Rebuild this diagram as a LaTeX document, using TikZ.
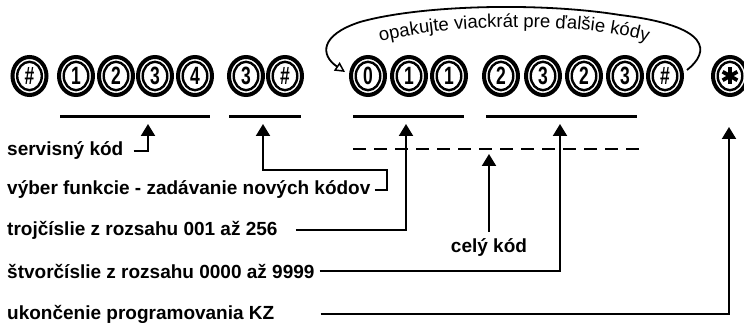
\documentclass[tikz,border=0pt]{standalone}
\usepackage{fontspec}
\setmainfont{Liberation Sans}
\newfontfamily\keyfont[FakeStretch=0.7]{Liberation Sans}
\usetikzlibrary{arrows.meta,decorations.text,shapes.geometric}
\begin{document}
\begin{tikzpicture}[x=1pt,y=-1pt,
  key/.style={ellipse,draw,line width=4pt,minimum width=34pt,minimum height=38pt,inner sep=0pt,
    font=\keyfont\bfseries\fontsize{25}{25}\selectfont,
    path picture={\draw[line width=2.4pt] (path picture bounding box.center) ellipse [x radius=12.3pt,y radius=14.2pt];}},
  starkey/.style={key,
    path picture={\draw[line width=2.4pt] (path picture bounding box.center) ellipse [x radius=12.3pt,y radius=14.2pt];
      \foreach \a in {90,30,150}{\draw[line width=3.8pt] (path picture bounding box.center) +(\a:8.5pt) -- +(\a+180:8.5pt);}}},
  label/.style={anchor=west,inner sep=0pt,font=\bfseries\fontsize{19}{22}\selectfont},
  uline/.style={line width=3pt},
  conn/.style={line width=2pt,-{Triangle[length=12pt,width=14pt]}},
  dashline/.style={line width=2.3pt,dash pattern=on 13pt off 8pt},
  loop/.style={line width=1.8pt,-{Triangle[open,length=10pt,width=10pt,line width=1.5pt]}}
]
\useasboundingbox (0,0) rectangle (744,323);

% keys
\node[key] (k1) at (29.5,76) {\#};
\node[key] (k2) at (76,76) {1};
\node[key] (k3) at (116,76) {2};
\node[key] (k4) at (155,76) {3};
\node[key] (k5) at (195,76) {4};
\node[key] (k6) at (246,76) {3};
\node[key] (k7) at (285,76) {\#};
\node[key] (k8) at (368,76) {0};
\node[key] (k9) at (409,76) {1};
\node[key] (k10) at (449,76) {1};
\node[key] (k11) at (501,76) {2};
\node[key] (k12) at (543,76) {3};
\node[key] (k13) at (584,76) {2};
\node[key] (k14) at (625,76) {3};
\node[key] (k15) at (665,76) {\#};
\node[starkey] (k16) at (730,76) {};

% underlines
\coordinate (u1a) at (60,117);  \coordinate (u1b) at (210,117);
\coordinate (u2a) at (229,117); \coordinate (u2b) at (301,117);
\coordinate (u3a) at (353,117); \coordinate (u3b) at (464,117);
\coordinate (u4a) at (486,117); \coordinate (u4b) at (637,117);
\draw[uline] (u1a) -- (u1b);
\draw[uline] (u2a) -- (u2b);
\draw[uline] (u3a) -- (u3b);
\draw[uline] (u4a) -- (u4b);

% dashed line
\coordinate (d1) at (353,149); \coordinate (d2) at (640,149);
\draw[dashline] (d1) -- (d2);

% labels
\node[label] (sv) at (7,151) {servisný kód};
\node[label] (vf) at (7,190) {výber funkcie - zadávanie nových kódov};
\node[label] (tr) at (7,230) {trojčíslie z rozsahu 001 až 256};
\node[label] (st) at (7,271) {štvorčíslie z rozsahu 0000 až 9999};
\node[label] (uk) at (7,314) {ukončenie programovania KZ};
\node[inner sep=0pt,font=\bfseries\fontsize{19}{22}\selectfont] (ck) at (489,248) {celý kód};

% arrow tips
\coordinate (t1) at (148,124);
\coordinate (t2) at (263,124);
\coordinate (b2) at (387,170);
\coordinate (t3) at (406,124);
\coordinate (t4) at (560,124);
\coordinate (t5) at (729,127);
\coordinate (t6) at (489,154);

\draw[conn] ([xshift=10pt]sv.east) -| (t1);
\draw[conn] ([xshift=4pt]vf.east) -| (b2) -| (t2);
\draw[conn] ([xshift=18pt]tr.east) -| (t3);
\draw[conn] ([xshift=5pt]st.east) -| (t4);
\draw[conn] ([xshift=46pt]uk.east) -| (t5);
\draw[conn] ([yshift=7pt]ck.north) -- (t6);

% repeat loop
\coordinate (ls) at ([shift={(22,-6)}]k15.center);
\coordinate (le) at ([shift={(-23,-4)}]k8.center);
\draw[loop] (ls) .. controls (710,52) and (712,26) .. (620,15)
  .. controls (540,2) and (420,5) .. (360,22)
  .. controls (320,35) and (320,55) .. (le);
\path[decorate,decoration={text along path,text align=center,
  text={|\fontsize{18.5}{18.5}\selectfont|opakujte viackrát pre ďalšie kódy}}]
  (376,43) .. controls (440,24) and (580,20) .. (652,43);
\end{tikzpicture}
\end{document}
